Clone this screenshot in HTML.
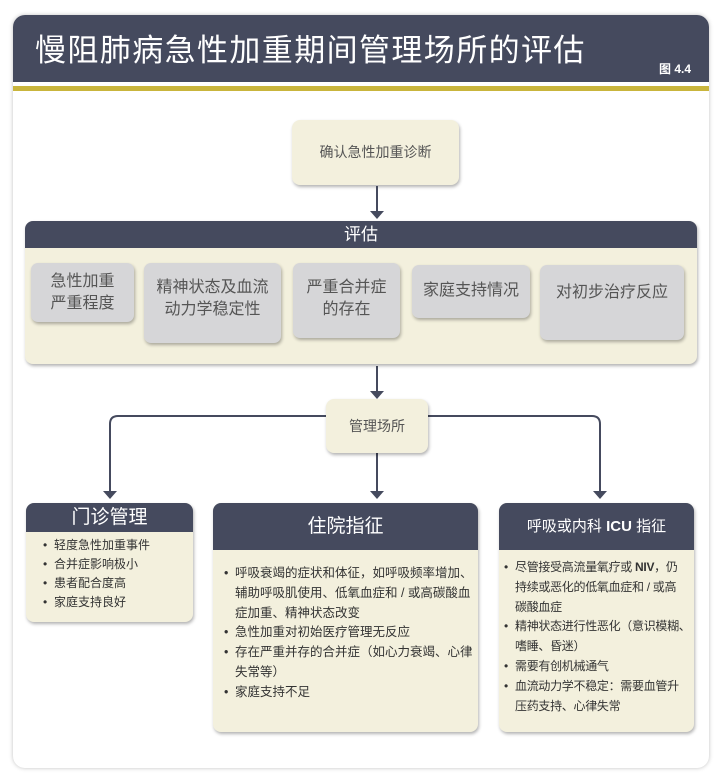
<!DOCTYPE html>
<html><head><meta charset="utf-8"><style>
*{margin:0;padding:0;box-sizing:border-box}
body{width:720px;height:784px;background:#fff;position:relative;font-family:"Liberation Sans","Noto Sans CJK SC",sans-serif;overflow:hidden}
.a{position:absolute}
.card{left:13px;top:15px;width:696px;height:753px;border-radius:12px;background:#fff;box-shadow:0 0 4px rgba(0,0,0,.25)}
.hdr{left:13px;top:15px;width:696px;height:67px;background:#454a5e;border-radius:12px 12px 0 0;color:#fff}
.cream{background:#f3f0dd;border-radius:8px;box-shadow:1px 2px 3px rgba(0,0,0,.3)}
.gray{background:#d6d6d8;border-radius:7px;box-shadow:1px 2px 3px rgba(0,0,0,.3);color:#555;font-size:16px;text-align:center;line-height:22px;padding-top:8px}
.dh{background:#454a5e;color:#fff;text-align:center;border-radius:8px 8px 0 0}
ul{list-style:none;color:#333;font-size:12.5px;white-space:nowrap}
li{position:relative;padding-left:11px}
li:before{content:"•";position:absolute;left:0}
</style></head><body>
<div class="a card"></div>
<div class="a hdr"><div class="a" style="left:22px;top:10px;font-size:31px;letter-spacing:1.4px">慢阻肺病急性加重期间管理场所的评估</div>
<div class="a" style="left:646px;top:45px;font-size:12px;font-weight:bold">图 4.4</div></div>
<div class="a" style="left:13px;top:86px;width:696px;height:5px;background:#c9b53c"></div>

<div class="a cream" style="left:292px;top:120px;width:167px;height:65px;text-align:center;line-height:65px;color:#555;font-size:14px">确认急性加重诊断</div>

<svg class="a" style="left:0;top:0" width="720" height="784">
<g stroke="#454a5e" stroke-width="2" fill="none">
<line x1="377" y1="186" x2="377" y2="212"/>
<line x1="377" y1="366" x2="377" y2="392"/>
<line x1="377" y1="453" x2="377" y2="492"/>
<path d="M326 416 H118 Q110 416 110 424 V492"/>
<path d="M428 416 H592 Q600 416 600 424 V492"/>
</g>
<g fill="#454a5e">
<polygon points="370,211 384,211 377,219"/>
<polygon points="370,391 384,391 377,399"/>
<polygon points="370,491 384,491 377,499"/>
<polygon points="103,491 117,491 110,499"/>
<polygon points="593,491 607,491 600,499"/>
</g></svg>

<div class="a cream" style="left:25px;top:221px;width:672px;height:143px"></div>
<div class="a dh" style="left:25px;top:221px;width:672px;height:27px;font-size:17px;line-height:27px">评估</div>
<div class="a gray" style="left:31px;top:263px;width:103px;height:59px">急性加重<br>严重程度</div>
<div class="a gray" style="left:144px;top:263px;width:137px;height:80px;padding-top:14px">精神状态及血流<br>动力学稳定性</div>
<div class="a gray" style="left:293px;top:263px;width:107px;height:75px;padding-top:14px">严重合并症<br>的存在</div>
<div class="a gray" style="left:412px;top:265px;width:118px;height:53px;padding-top:15px">家庭支持情况</div>
<div class="a gray" style="left:540px;top:265px;width:144px;height:75px;padding-top:17px">对初步治疗反应</div>

<div class="a cream" style="left:326px;top:399px;width:102px;height:54px;text-align:center;line-height:54px;color:#555;font-size:14px">管理场所</div>

<div class="a cream" style="left:26px;top:503px;width:167px;height:119px"></div>
<div class="a dh" style="left:26px;top:503px;width:167px;height:29px;font-size:19px;line-height:29px">门诊管理</div>
<ul class="a" style="left:43px;top:536px;line-height:19px;font-size:12px">
<li>轻度急性加重事件</li><li>合并症影响极小</li><li>患者配合度高</li><li>家庭支持良好</li></ul>

<div class="a cream" style="left:213px;top:503px;width:265px;height:229px"></div>
<div class="a dh" style="left:213px;top:503px;width:265px;height:47px;font-size:19px;line-height:47px">住院指征</div>
<ul class="a" style="left:224px;top:564px;width:250px;line-height:19.8px">
<li>呼吸衰竭的症状和体征，如呼吸频率增加、<br>辅助呼吸肌使用、低氧血症和 / 或高碳酸血<br>症加重、精神状态改变</li>
<li>急性加重对初始医疗管理无反应</li>
<li>存在严重并存的合并症（如心力衰竭、心律<br>失常等）</li>
<li>家庭支持不足</li></ul>

<div class="a cream" style="left:499px;top:503px;width:195px;height:229px"></div>
<div class="a dh" style="left:499px;top:503px;width:195px;height:47px;font-size:15px;line-height:47px">呼吸或内科 <b>ICU</b> 指征</div>
<ul class="a" style="left:504px;top:558px;width:190px;line-height:19.8px;font-size:12px;letter-spacing:-0.3px">
<li>尽管接受高流量氧疗或 <b>NIV</b>，仍<br>持续或恶化的低氧血症和 / 或高<br>碳酸血症</li>
<li>精神状态进行性恶化（意识模糊、<br>嗜睡、昏迷）</li>
<li>需要有创机械通气</li>
<li>血流动力学不稳定：需要血管升<br>压药支持、心律失常</li></ul>
</body></html>
